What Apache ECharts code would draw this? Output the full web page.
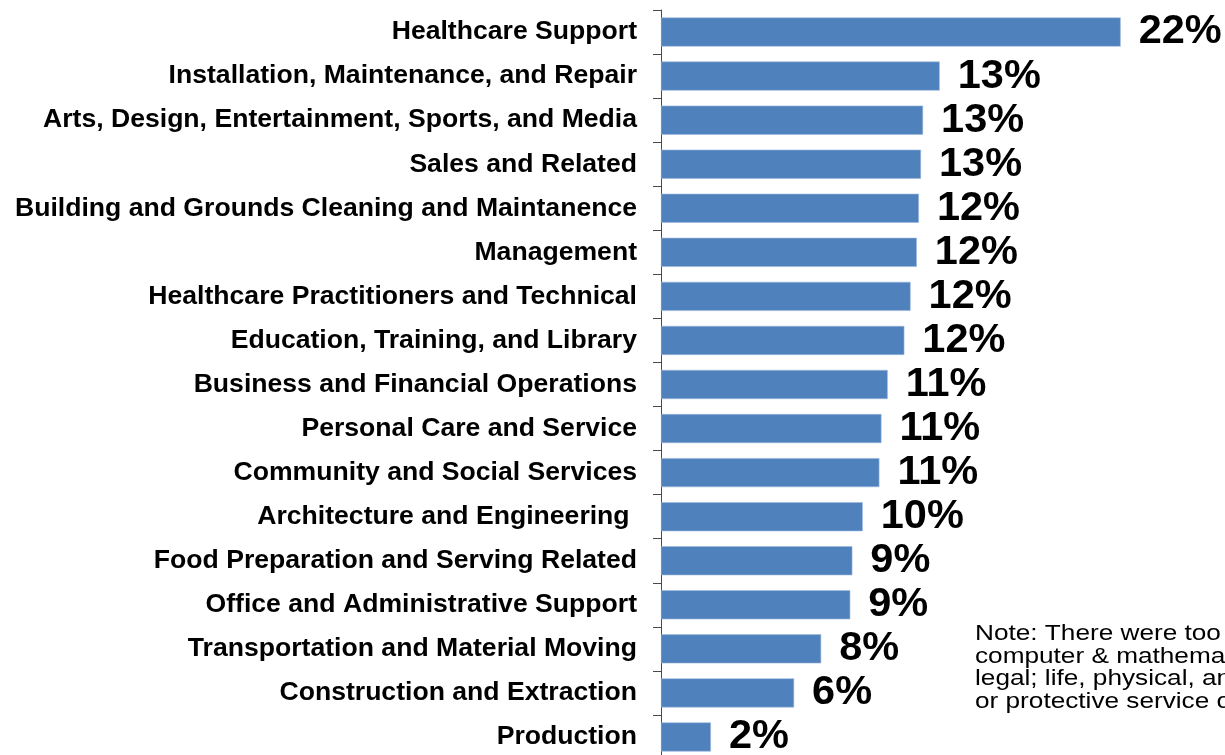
<!DOCTYPE html>
<html>
<head>
<meta charset="utf-8">
<script src="https://cdn.jsdelivr.net/npm/echarts@6/dist/echarts.min.js"></script>
<style>
html,body{margin:0;padding:0;background:#fff;}
#chart{width:1225px;height:755px;}
</style>
</head>
<body>
<div id="chart"></div>
<script>
const categories = [
  'Healthcare Support',
  'Installation, Maintenance, and Repair',
  'Arts, Design, Entertainment, Sports, and Media',
  'Sales and Related',
  'Building and Grounds Cleaning and Maintanence',
  'Management',
  'Healthcare Practitioners and Technical',
  'Education, Training, and Library',
  'Business and Financial Operations',
  'Personal Care and Service',
  'Community and Social Services',
  'Architecture and Engineering ',
  'Food Preparation and Serving Related',
  'Office and Administrative Support',
  'Transportation and Material Moving',
  'Construction and Extraction',
  'Production'
];
const values = [22.1, 13.4, 12.6, 12.5, 12.4, 12.3, 12.0, 11.7, 10.9, 10.6, 10.5, 9.7, 9.2, 9.1, 7.7, 6.4, 2.4];
const noteLines = [
  'Note: There were too few respondents in',
  'computer & mathematical; farming, fishing,',
  'legal; life, physical, and social science;',
  'or protective service occupations.'
];

const FONT = 'Liberation Sans';
const chart = echarts.init(document.getElementById('chart'), null, {renderer: 'canvas'});
chart.setOption({
  animation: false,
  backgroundColor: '#ffffff',
  grid: {left: 661, width: 520, top: 10, height: 749, containLabel: false, outerBoundsMode: 'none'},
  xAxis: {
    type: 'value', min: 0, max: 25,
    show: false
  },
  yAxis: {
    type: 'category',
    data: categories,
    inverse: true,
    axisLine: {show: true, lineStyle: {color: '#4a4a4a', width: 1}},
    axisTick: {show: true, length: 8, lineStyle: {color: '#4a4a4a', width: 1}},
    axisLabel: {
      margin: 24,
      color: '#000',
      fontFamily: FONT,
      fontWeight: 'bold',
      fontSize: 26.6
    }
  },
  series: [{
    type: 'bar',
    data: values,
    barCategoryGap: '34%',
    itemStyle: {color: '#4F81BD', borderColor: '#9DB9DE', borderWidth: 0.6},
    label: {
      show: true,
      position: 'right',
      distance: 18,
      color: '#000',
      fontFamily: FONT,
      fontWeight: 'bold',
      fontSize: 41.5,
      formatter: p => Math.round(p.value) + '%'
    }
  }],
  graphic: [{
    type: 'group',
    x: 975,
    y: 623,
    scaleX: 1.19,
    children: noteLines.map((t, i) => ({
      type: 'text',
      x: 0,
      y: i * 22.7,
      style: {text: t, fill: '#000', fontFamily: FONT, fontSize: 22, verticalAlign: 'top'}
    }))
  }]
});
</script>
</body>
</html>
